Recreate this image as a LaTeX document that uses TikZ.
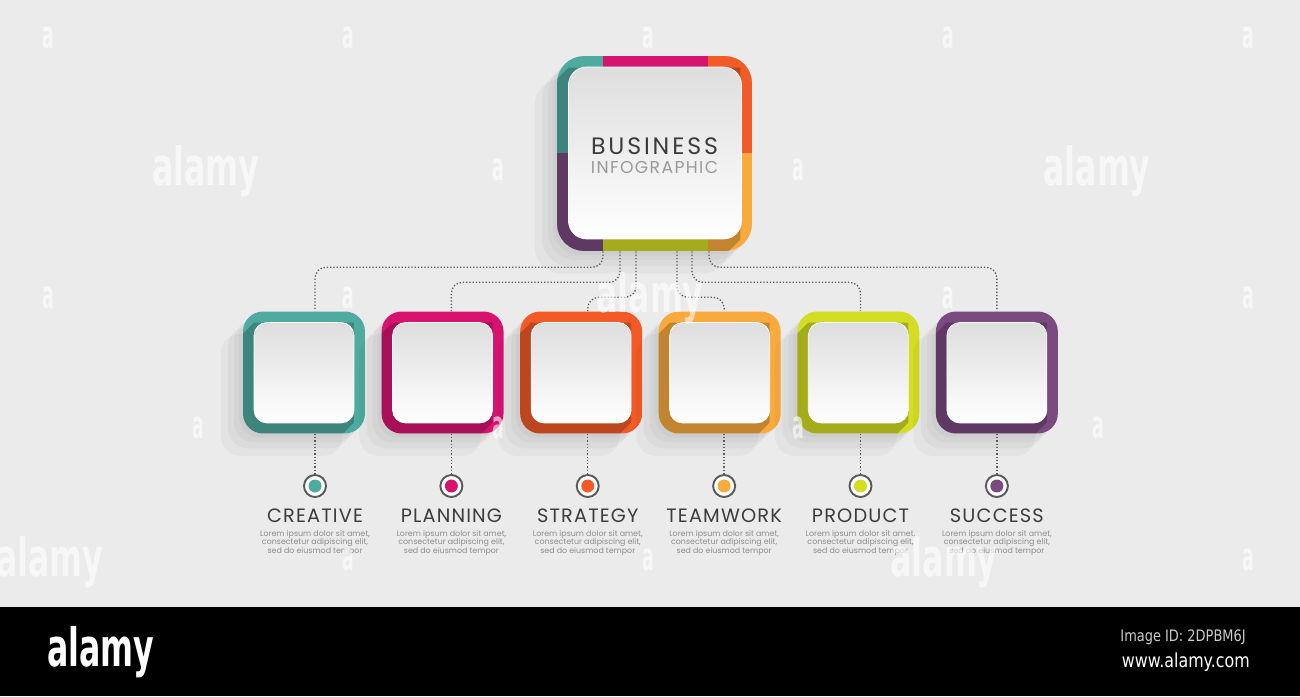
\documentclass[tikz,border=0pt]{standalone}
\usepackage{fontspec}
\setmainfont{Poppins}
\newfontfamily\wmfont{DejaVu Sans}
\usepackage{graphicx}
\usepackage{tikz}
\usetikzlibrary{positioning, shadows}
\definecolor{bgGray}{HTML}{EBEBEB}
\definecolor{cTeal}{HTML}{4FAB9F}
\definecolor{cMagenta}{HTML}{D6146F}
\definecolor{cOrange}{HTML}{F25A27}
\definecolor{cAmber}{HTML}{F9AA3D}
\definecolor{cLime}{HTML}{D3DD24}
\definecolor{cPurple}{HTML}{7B4A80}
\definecolor{linkGray}{HTML}{5A5A5A}
\definecolor{titleGray}{HTML}{3C3C3C}
\definecolor{infoGray}{HTML}{9A9A9A}
\definecolor{loremGray}{HTML}{8C8C8C}
\newcommand\ppbb{path picture bounding box}
\newcommand\loremtext{Lorem ipsum dolor sit amet,\\ consectetur adipiscing elit,\\ sed do eiusmod tempor}
\tikzstyle{link} = [linkGray, line width=0.75pt, dash pattern=on 0.75pt off 1.1pt, rounded corners=0.22cm]
\tikzstyle{title} = [text=titleGray, inner sep=0pt, font=\fontsize{11}{12}\selectfont\addfontfeatures{LetterSpace=6}]
\tikzstyle{lorem} = [text=loremGray, inner sep=0pt, align=center, font=\fontsize{4.5}{4.7}\selectfont]
\tikzstyle{watermark} = [text=white, opacity=0.6, inner sep=0pt, font=\wmfont\bfseries\fontsize{30}{30}\selectfont]
\tikzstyle{wmletter} = [text=white, opacity=0.6, inner sep=0pt, font=\wmfont\bfseries\fontsize{22}{22}\selectfont]
\tikzset{
	innerface/.style = {sharp corners, rounded corners=0.26cm, draw=white, line width=0.4pt,
		top color=black!13, bottom color=white},
	longshadow/.style = {
		drop shadow={fill=black, opacity=0.03, shadow xshift=-0.08cm, shadow yshift=-0.08cm},
		drop shadow={fill=black, opacity=0.03, shadow xshift=-0.18cm, shadow yshift=-0.18cm},
		drop shadow={fill=black, opacity=0.03, shadow xshift=-0.3cm, shadow yshift=-0.3cm},
		drop shadow={fill=black, opacity=0.03, shadow xshift=-0.45cm, shadow yshift=-0.45cm}
	},
	stepcard/.style = {rectangle, rounded corners=0.4cm, minimum size=2.44cm, inner sep=0pt,
		fill=#1, longshadow,
		path picture={\fill[black, opacity=0.22, sharp corners]
			([shift={(0.22cm,-0.22cm)}]\ppbb.north west) -- ([shift={(-0.22cm,-0.22cm)}]\ppbb.north east)
			-- ([shift={(-0.22cm,0.22cm)}]\ppbb.south east) -- ([shift={(-0.82cm,-0.38cm)}]\ppbb.south east)
			-- ([shift={(-0.38cm,-0.38cm)}]\ppbb.south west) -- ([shift={(-0.38cm,-0.82cm)}]\ppbb.north west) -- cycle;
			\path[innerface] ([shift={(0.22cm,-0.22cm)}]\ppbb.north west) rectangle ([shift={(-0.22cm,0.21cm)}]\ppbb.south east);
		},% end of path picture
	},
	mainbox/.style = {rectangle, rounded corners=0.54cm, minimum size=3.9cm, inner sep=0pt, longshadow,
		path picture={
			\fill[cTeal, sharp corners] (\ppbb.north west) rectangle ([shift={(0.92cm,-1.94cm)}]\ppbb.north west);
			\fill[cMagenta, sharp corners] ([xshift=0.92cm]\ppbb.north west) rectangle ([shift={(-0.88cm,-1.94cm)}]\ppbb.north east);
			\fill[cOrange, sharp corners] ([xshift=-0.88cm]\ppbb.north east) rectangle ([yshift=-1.94cm]\ppbb.north east);
			\fill[cPurple, sharp corners] ([yshift=-1.94cm]\ppbb.north west) rectangle ([xshift=0.92cm]\ppbb.south west);
			\fill[cLime, sharp corners] ([shift={(0.92cm,-1.94cm)}]\ppbb.north west) rectangle ([xshift=-0.88cm]\ppbb.south east);
			\fill[cAmber, sharp corners] ([shift={(-0.88cm,-1.94cm)}]\ppbb.north east) rectangle (\ppbb.south east);
			\fill[black, opacity=0.22, sharp corners]
			([shift={(0.23cm,-0.23cm)}]\ppbb.north west) -- ([shift={(-0.23cm,-0.23cm)}]\ppbb.north east)
			-- ([shift={(-0.23cm,0.23cm)}]\ppbb.south east) -- ([shift={(-1.03cm,-0.57cm)}]\ppbb.south east)
			-- ([shift={(-0.57cm,-0.57cm)}]\ppbb.south west) -- ([shift={(-0.57cm,-1.03cm)}]\ppbb.north west) -- cycle;
			\path[innerface, rounded corners=0.36cm] ([shift={(0.23cm,-0.22cm)}]\ppbb.north west) rectangle ([shift={(-0.21cm,0.24cm)}]\ppbb.south east);
		},% end of path picture
	},
	dot/.style = {circle, draw=linkGray, line width=1.1pt, fill=white, minimum size=0.44cm, inner sep=0pt,
		path picture={\fill[#1] (\ppbb.center) circle (0.13cm);}
	}
}

\begin{document}
\begin{tikzpicture}[x=0.02cm, y=-0.02cm]
%----------------------------------------------------------------------------
% Canvas
\useasboundingbox (0,0) rectangle (1300,696);
\fill[bgGray] (0,0) rectangle (1300,607);
\fill[black] (0,607) rectangle (1300,696);

%----------------------------------------------------------------------------
% Placement of boxes
\node (mainBox) [mainbox] at (654.5,153.5) {};

\node (bizLabel) [text=titleGray, inner sep=0pt, font=\fontsize{13.5}{14}\selectfont\addfontfeatures{LetterSpace=12}] 
at ([yshift=0.15cm]mainBox.center) {BUSINESS};

\node (infoLabel) [text=infoGray, inner sep=0pt, below of = bizLabel, node distance = 0.42cm, 
font=\fontsize{9.8}{11}\selectfont\addfontfeatures{LetterSpace=8}] {INFOGRAPHIC};

\node (creativeBox) [stepcard=cTeal] at (304,372.5) {};

\node (planningBox) [stepcard=cMagenta, right of = creativeBox, node distance = 2.772cm] {};

\node (strategyBox) [stepcard=cOrange, right of = planningBox, node distance = 2.772cm] {};

\node (teamworkBox) [stepcard=cAmber, right of = strategyBox, node distance = 2.772cm] {};

\node (productBox) [stepcard=cLime, right of = teamworkBox, node distance = 2.772cm] {};

\node (successBox) [stepcard=cPurple, right of = productBox, node distance = 2.772cm] {};

%----------------------------------------------------------------------------
% Markers and captions
\node (creativeDot) [dot=cTeal] at (315,486) {};
\node (planningDot) [dot=cMagenta, right of = creativeDot, node distance = 2.728cm] {};
\node (strategyDot) [dot=cOrange, right of = planningDot, node distance = 2.728cm] {};
\node (teamworkDot) [dot=cAmber, right of = strategyDot, node distance = 2.728cm] {};
\node (productDot) [dot=cLime, right of = teamworkDot, node distance = 2.728cm] {};
\node (successDot) [dot=cPurple, right of = productDot, node distance = 2.728cm] {};

\node (creativeTitle) [title, below of = creativeDot, node distance = 0.6cm] {CREATIVE};
\node (planningTitle) [title, below of = planningDot, node distance = 0.6cm] {PLANNING};
\node (strategyTitle) [title, below of = strategyDot, node distance = 0.6cm] {STRATEGY};
\node (teamworkTitle) [title, below of = teamworkDot, node distance = 0.6cm] {TEAMWORK};
\node (productTitle) [title, below of = productDot, node distance = 0.6cm] {PRODUCT};
\node (successTitle) [title, below of = successDot, node distance = 0.6cm] {SUCCESS};

\node (creativeText) [lorem, below of = creativeTitle, node distance = 0.54cm] {\loremtext};
\node (planningText) [lorem, below of = planningTitle, node distance = 0.54cm] {\loremtext};
\node (strategyText) [lorem, below of = strategyTitle, node distance = 0.54cm] {\loremtext};
\node (teamworkText) [lorem, below of = teamworkTitle, node distance = 0.54cm] {\loremtext};
\node (productText) [lorem, below of = productTitle, node distance = 0.54cm] {\loremtext};
\node (successText) [lorem, below of = successTitle, node distance = 0.54cm] {\loremtext};

%----------------------------------------------------------------------------
% Dotted lines from the main box
\coordinate (mainOut1) at ([xshift=-1.03cm]mainBox.south);
\coordinate (mainOut2) at ([xshift=-0.69cm]mainBox.south);
\coordinate (mainOut3) at ([xshift=-0.37cm]mainBox.south);
\coordinate (mainOut4) at ([xshift=0.45cm]mainBox.south);
\coordinate (mainOut5) at ([xshift=0.75cm]mainBox.south);
\coordinate (mainOut6) at ([xshift=1.09cm]mainBox.south);

\draw [link] (mainOut1) -- ++(0,16) -| (creativeBox.north -| creativeDot);
\draw [link] (mainOut2) -- ++(0,31) -| (planningBox.north -| planningDot);
\draw [link] (mainOut3) -- ++(0,46) -| (strategyBox.north -| strategyDot);
\draw [link] (mainOut4) -- ++(0,46) -| (teamworkBox.north -| teamworkDot);
\draw [link] (mainOut5) -- ++(0,31) -| (productBox.north -| productDot);
\draw [link] (mainOut6) -- ++(0,16) -| (successBox.north -| successDot);

% down to the markers
\draw [link] (creativeBox.south -| creativeDot) -- (creativeDot.north);
\draw [link] (planningBox.south -| planningDot) -- (planningDot.north);
\draw [link] (strategyBox.south -| strategyDot) -- (strategyDot.north);
\draw [link] (teamworkBox.south -| teamworkDot) -- (teamworkDot.north);
\draw [link] (productBox.south -| productDot) -- (productDot.north);
\draw [link] (successBox.south -| successDot) -- (successDot.north);

%----------------------------------------------------------------------------
% Footer band
\node (alamyLogo) [watermark, opacity=1] at (101,652) {\scalebox{0.6}[1]{alamy}};
\node (imageId) [anchor=east, inner sep=0pt, text=black!20, font=\wmfont\fontsize{9}{10}\selectfont] 
at (1246,637) {\scalebox{0.82}[1]{Image ID: 2DPBM6J}};
\node (siteUrl) [anchor=east, inner sep=0pt, text=white, font=\wmfont\fontsize{11}{12}\selectfont] 
at (1250,662) {\scalebox{0.82}[1]{www.alamy.com}};

%----------------------------------------------------------------------------
% Watermarks
\node (wmBig1) [watermark] at (206,171) {\scalebox{0.6}[1]{alamy}};
\node (wmBig2) [watermark] at (1097,171) {\scalebox{0.6}[1]{alamy}};
\node (wmBig3) [watermark] at (650,298) {\scalebox{0.6}[1]{alamy}};
\node (wmBig4) [watermark] at (50,562) {\scalebox{0.6}[1]{alamy}};
\node (wmBig5) [watermark] at (944,562) {\scalebox{0.6}[1]{alamy}};

\node (wmA1) [wmletter] at (48,38) {\scalebox{0.45}[1]{a}};
\node (wmA2) [wmletter] at (348,38) {\scalebox{0.45}[1]{a}};
\node (wmA3) [wmletter] at (648,38) {\scalebox{0.45}[1]{a}};
\node (wmA4) [wmletter] at (948,38) {\scalebox{0.45}[1]{a}};
\node (wmA5) [wmletter] at (1248,38) {\scalebox{0.45}[1]{a}};
\node (wmA6) [wmletter] at (498,170) {\scalebox{0.45}[1]{a}};
\node (wmA7) [wmletter] at (798,170) {\scalebox{0.45}[1]{a}};
\node (wmA8) [wmletter] at (48,298) {\scalebox{0.45}[1]{a}};
\node (wmA9) [wmletter] at (348,298) {\scalebox{0.45}[1]{a}};
\node (wmA10) [wmletter] at (948,298) {\scalebox{0.45}[1]{a}};
\node (wmA11) [wmletter] at (1248,298) {\scalebox{0.45}[1]{a}};
\node (wmA12) [wmletter] at (198,428) {\scalebox{0.45}[1]{a}};
\node (wmA13) [wmletter] at (498,428) {\scalebox{0.45}[1]{a}};
\node (wmA14) [wmletter] at (798,428) {\scalebox{0.45}[1]{a}};
\node (wmA15) [wmletter] at (1098,428) {\scalebox{0.45}[1]{a}};
\node (wmA16) [wmletter] at (348,560) {\scalebox{0.45}[1]{a}};
\node (wmA17) [wmletter] at (648,560) {\scalebox{0.45}[1]{a}};
\node (wmA18) [wmletter] at (1248,560) {\scalebox{0.45}[1]{a}};
\end{tikzpicture}
\end{document}
